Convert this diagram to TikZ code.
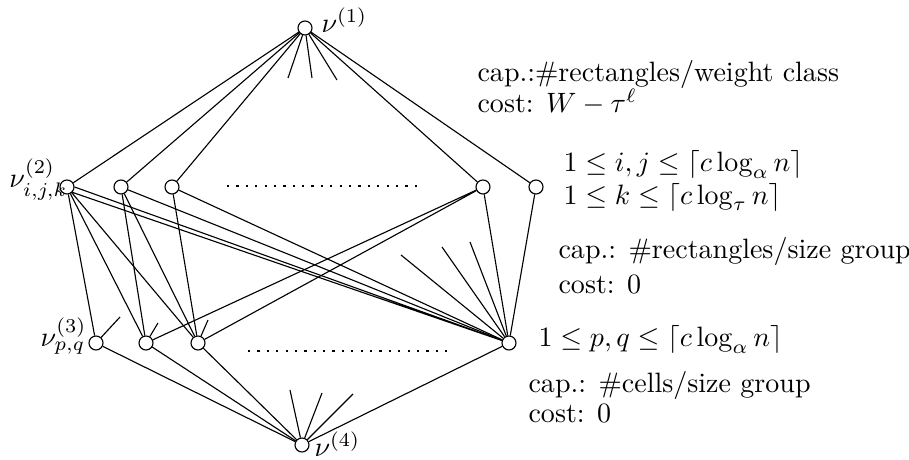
\documentclass[tikz,border=0pt]{standalone}
\usepackage{amsmath,amssymb}
\begin{document}
\begin{tikzpicture}[x=0.357pt,y=-0.357pt,
  vtx/.style={circle,draw,inner sep=0pt,minimum size=5pt},
  txt/.style={inner sep=0pt,anchor=base west},
  dotrow/.style={line width=0.8pt,dash pattern=on 0.8pt off 2.55pt}]
  \useasboundingbox (0,0) rectangle (909,460);
  % vertices
  \node[vtx] (nu1) at (305,28) {};
  \node[vtx] (v21) at (67,187) {};
  \node[vtx] (v22) at (121,187) {};
  \node[vtx] (v23) at (172,187) {};
  \node[vtx] (v24) at (483,187) {};
  \node[vtx] (v25) at (536,187) {};
  \node[vtx] (v31) at (96,343) {};
  \node[vtx] (v32) at (146,343) {};
  \node[vtx] (v33) at (198,343) {};
  \node[vtx] (v34) at (509,343) {};
  \node[vtx] (nu4) at (302,445) {};
  \draw[dotrow] (227,186) -- (419,186);
  \draw[dotrow] (248,351) -- (452,351);
  % loose edge ends
  \coordinate (e11) at (288,78);
  \coordinate (e12) at (312,78);
  \coordinate (e13) at (337,80);
  \coordinate (e31) at (120,317);
  \coordinate (e32) at (158,323);
  \coordinate (e33) at (208,320);
  \coordinate (e41) at (401,255);
  \coordinate (e42) at (442,247);
  \coordinate (e43) at (470,242);
  \coordinate (e51) at (290,390);
  \coordinate (e52) at (322,393);
  \coordinate (e53) at (353,394);
  % edges
  \foreach \v in {v21,v22,v23,v24,v25,e11,e12,e13}
    \draw (nu1) -- (\v);
  \draw (v21) -- (v31) (v21) -- (v32) (v21) -- (v33)
        (v21.east) -- (v34) (v21.south east) -- (v34);
  \draw (v22) -- (v32) (v22) -- (v33) (v22) -- (v34);
  \draw (v23) -- (v33) (v23) -- (v34);
  \draw (v24) -- (v34) (v25) -- (v34);
  \draw (v32) -- (v24) (v33) -- (v24);
  \draw (v31) -- (e31) (v32) -- (e32) (v33) -- (e33);
  \foreach \e in {e41,e42,e43}
    \draw (v34) -- (\e);
  \foreach \v in {v31,v32,v33,v34,e51,e52,e53}
    \draw (nu4) -- (\v);
  % labels
  \node[txt] (l1) at (321,33) {$\nu^{(1)}$};
  \node[inner sep=0pt,anchor=base east] (l2) at (68,188) {$\nu^{(2)}_{i,j,k}$};
  \node[inner sep=0pt,anchor=base east] (l3) at (87,347) {$\nu^{(3)}_{p,q}$};
  \node[txt] (l4) at (314,457) {$\nu^{(4)}$};
  \node[txt] (c1) at (477,82) {cap.:\#rectangles/weight class};
  \node[txt] (k1) at (477,113) {cost: $W-\tau^\ell$};
  \node[inner sep=0pt,anchor=north west,align=left] (r1) at (563,150)
    {$1\le i,j\le\lceil c\log_\alpha n\rceil$\\[-0.4pt]
     $1\le k\le\lceil c\log_\tau n\rceil$};
  \node[txt] (c2) at (558,259) {cap.: \#rectangles/size group};
  \node[txt] (k2) at (558,294) {cost: 0};
  \node[txt] (r3) at (538,347) {$1\le p,q\le\lceil c\log_\alpha n\rceil$};
  \node[txt] (c3) at (528,393) {cap.: \#cells/size group};
  \node[txt] (k3) at (528,423) {cost: 0};
\end{tikzpicture}
\end{document}
